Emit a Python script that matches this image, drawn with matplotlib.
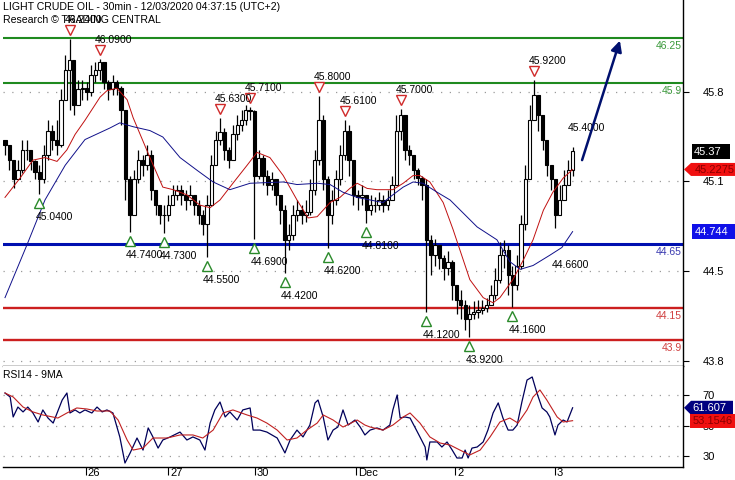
import matplotlib
matplotlib.use("Agg")
import matplotlib.pyplot as plt
import numpy as np
from matplotlib.patches import Polygon
from matplotlib.transforms import IdentityTransform, offset_copy, ScaledTranslation

plt.rcParams['font.family'] = ['Liberation Sans', 'DejaVu Sans']

# ---------------- data (each candle = one hour, index k) ----------------
closes = [45.42, 45.30, 45.15, 45.22, 45.38, 45.38, 45.29, 45.21, 45.15, 45.34,
          45.53, 45.46, 45.42, 45.77, 46.00, 46.08, 45.73, 45.85, 45.86, 45.83,
          45.96, 46.00, 46.06, 45.91, 45.85, 45.91, 45.86, 45.69, 45.15, 44.87,
          45.15, 45.30, 45.26, 45.34, 45.07, 44.95, 44.87, 44.87, 44.95, 45.03,
          45.07, 45.03, 44.99, 45.03, 44.95, 44.87, 44.80, 44.95, 45.26, 45.46,
          45.52, 45.38, 45.30, 45.50, 45.57, 45.61, 45.69, 45.68, 45.18, 45.32,
          45.18, 45.11, 45.15, 45.03, 44.91, 44.68, 44.72, 44.87, 44.91, 44.87,
          44.90, 45.07, 45.30, 45.61, 45.15, 44.87, 44.99, 45.15, 45.34, 45.53,
          45.30, 45.03, 45.01, 45.03, 44.91, 44.95, 44.95, 44.99, 44.95, 44.99,
          45.11, 45.53, 45.65, 45.38, 45.34, 45.22, 45.16, 45.11, 44.68, 44.56,
          44.64, 44.54, 44.46, 44.51, 44.33, 44.21, 44.17, 44.06, 44.10, 44.12,
          44.13, 44.15, 44.17, 44.25, 44.37, 44.56, 44.60, 44.41, 44.33, 44.48,
          44.80, 45.15, 45.61, 45.81, 45.65, 45.46, 45.26, 45.15, 44.87, 44.99,
          45.11, 45.22, 45.37]
highs = [45.46, 45.42, 45.26, 45.30, 45.46, 45.46, 45.38, 45.30, 45.26, 45.42,
         45.61, 45.57, 45.61, 45.85, 46.12, 46.24, 46.08, 45.92, 45.92, 45.91,
         46.04, 46.06, 46.09, 46.06, 45.92, 45.96, 45.92, 45.88, 45.69, 45.18,
         45.22, 45.38, 45.34, 45.42, 45.38, 45.07, 44.95, 44.95, 45.03, 45.11,
         45.11, 45.11, 45.07, 45.11, 45.03, 44.99, 44.91, 45.03, 45.34, 45.53,
         45.63, 45.55, 45.40, 45.57, 45.65, 45.69, 45.73, 45.71, 45.69, 45.38,
         45.34, 45.22, 45.21, 45.15, 45.03, 44.95, 44.80, 44.95, 44.99, 44.95,
         44.99, 45.15, 45.38, 45.80, 45.65, 45.18, 45.07, 45.22, 45.42, 45.61,
         45.57, 45.30, 45.07, 45.11, 45.03, 45.03, 45.01, 45.05, 45.03, 45.07,
         45.18, 45.65, 45.70, 45.65, 45.42, 45.34, 45.24, 45.18, 45.15, 44.72,
         44.69, 44.64, 44.56, 44.59, 44.52, 44.33, 44.29, 44.21, 44.17, 44.20,
         44.21, 44.21, 44.23, 44.33, 44.46, 44.66, 44.68, 44.64, 44.48, 44.56,
         44.87, 45.26, 45.73, 45.92, 45.81, 45.65, 45.46, 45.26, 45.15, 45.11,
         45.22, 45.30, 45.40]
lows = [45.34, 45.22, 45.08, 45.15, 45.20, 45.30, 45.22, 45.15, 45.04, 45.12,
        45.30, 45.38, 45.34, 45.40, 45.77, 45.69, 45.65, 45.73, 45.77, 45.77,
        45.80, 45.91, 45.92, 45.85, 45.77, 45.81, 45.81, 45.57, 44.99, 44.74,
        44.87, 45.12, 45.18, 45.22, 44.99, 44.87, 44.80, 44.73, 44.83, 44.95,
        44.99, 44.95, 44.91, 44.95, 44.87, 44.80, 44.72, 44.55, 44.95, 45.26,
        45.42, 45.30, 45.24, 45.30, 45.46, 45.53, 45.57, 45.61, 44.69, 45.15,
        45.11, 45.03, 45.07, 44.95, 44.80, 44.42, 44.60, 44.68, 44.83, 44.80,
        44.82, 44.87, 45.03, 45.26, 45.07, 44.62, 44.80, 44.95, 45.11, 45.30,
        45.18, 44.95, 44.91, 44.95, 44.81, 44.87, 44.90, 44.91, 44.90, 44.91,
        44.99, 45.11, 45.46, 45.30, 45.26, 45.15, 45.11, 44.99, 44.12, 44.41,
        44.48, 44.45, 44.37, 44.41, 44.21, 44.10, 44.06, 43.98, 43.92, 44.06,
        44.07, 44.10, 44.12, 44.17, 44.22, 44.34, 44.46, 44.25, 44.16, 44.29,
        44.45, 44.76, 45.15, 45.61, 45.53, 45.38, 45.18, 45.07, 44.77, 44.87,
        44.99, 45.11, 45.18]
first_open = 45.46
opens = [first_open] + closes[:-1]

ma_fast_x = [0, 3.5, 6.5, 9.3, 12.1, 14.4, 16.3, 18.6, 22.1, 23.7, 26.0, 28.4, 29.8, 33.7,
             36.7, 39.1, 42.3, 45.3, 47.7, 50.0, 53.0, 56.3, 58.6, 61.6, 64.7, 67.9, 70.5,
             72.6, 75.6, 77.9, 80.2, 81.9, 84.2, 86.5, 90.2, 92.6, 94.9, 96.5, 98.8, 101.9,
             104.2, 108.1, 111.2, 113.5, 115.1, 118.1, 120.5, 122.8, 125.2, 127.4, 129.8, 132]
ma_fast_y = [45.01, 45.16, 45.30, 45.32, 45.29, 45.38, 45.50, 45.61, 45.79, 45.84, 45.86,
             45.77, 45.63, 45.32, 45.09, 45.07, 45.03, 44.95, 44.93, 44.99, 45.12, 45.26,
             45.36, 45.32, 45.18, 44.99, 44.85, 44.86, 44.97, 45.01, 45.08, 45.12, 45.08,
             45.07, 45.07, 45.12, 45.18, 45.18, 45.13, 44.97, 44.76, 44.37, 44.23, 44.19,
             44.23, 44.37, 44.52, 44.68, 44.91, 45.05, 45.16, 45.2275]
ma_slow_x = [0, 5.1, 9.3, 14.0, 18.6, 24.4, 26.7, 29.8, 33.7, 36.7, 40.7, 44.7, 48.4, 52.3,
             57.0, 64.7, 67.9, 72.6, 75.6, 78.6, 81.9, 84.9, 87.9, 90.2, 92.6, 94.9, 97.2,
             100.5, 103.5, 106.5, 109.8, 114.4, 117.4, 119.8, 122.8, 126.7, 129.5, 132]
ma_slow_y = [44.23, 44.64, 44.99, 45.26, 45.46, 45.55, 45.59, 45.56, 45.53, 45.48, 45.32,
             45.22, 45.13, 45.07, 45.12, 45.13, 45.11, 45.12, 45.11, 45.05, 45.01, 44.99,
             44.97, 45.03, 45.09, 45.13, 45.12, 45.05, 44.99, 44.89, 44.78, 44.68, 44.51,
             44.45, 44.48, 44.56, 44.62, 44.744]

rsi_x = [0, 1.2, 1.9, 3.0, 4.2, 5.3, 6.5, 7.7, 8.8, 10.0, 11.2, 13.3, 14.4, 15.1, 16.3, 17.4,
         18.6, 20.2, 21.4, 22.6, 23.7, 25.1, 26.7, 27.9, 29.1, 30.7, 32.1, 33.3, 34.4, 35.6,
         36.7, 38.4, 40.7, 42.3, 43.7, 45.3, 46.5, 47.7, 48.8, 50.0, 51.2, 52.3, 54.0, 55.3,
         57.0, 57.7, 59.3, 60.9, 63.3, 65.1, 66.3, 67.9, 69.3, 70.9, 72.1, 72.8, 74.0, 75.1,
         76.3, 77.4, 78.6, 79.8, 81.4, 82.6, 83.7, 84.9, 86.5, 87.9, 89.5, 90.2, 91.2, 91.9,
         93.0, 94.2, 95.3, 96.5, 97.7, 98.1, 98.8, 100.5, 101.6, 102.8, 104.0, 105.1, 106.3,
         107.0, 107.7, 108.6, 109.8, 111.2, 112.3, 113.5, 114.7, 115.8, 117.0, 118.1, 119.1,
         120.2, 121.4, 122.6, 123.7, 124.9, 126.0, 126.7, 127.9, 128.6, 129.8, 130.7, 132]
rsi_y = [71.3, 68.7, 55.6, 62.1, 58.9, 62.1, 58.2, 52.3, 60.2, 54.9, 51.6, 66.7, 71.3, 58.2,
         60.2, 58.2, 60.2, 58.2, 62.1, 58.9, 60.2, 58.2, 42.5, 25.4, 32.0, 41.8, 33.9, 48.4,
         42.5, 35.2, 40.5, 42.5, 45.7, 40.5, 42.5, 40.5, 33.9, 51.6, 60.2, 65.4, 55.6, 58.9,
         53.6, 60.2, 61.5, 47.0, 47.0, 45.7, 41.8, 32.0, 40.5, 47.0, 42.5, 50.3, 64.8, 66.7,
         55.6, 40.5, 47.0, 49.0, 60.2, 50.3, 53.6, 49.0, 43.8, 47.0, 48.4, 47.0, 50.3, 60.2,
         70.0, 54.9, 55.6, 54.9, 49.0, 42.5, 35.9, 27.4, 39.2, 39.2, 35.9, 39.2, 33.9, 28.7,
         28.7, 33.9, 28.7, 35.2, 35.9, 39.2, 47.0, 58.2, 64.8, 54.9, 47.0, 47.0, 50.3, 65.4,
         79.8, 81.8, 71.3, 61.5, 58.9, 55.6, 43.8, 50.3, 53.6, 52.3, 61.607]
rsi_ma_x = [0, 1.9, 4.2, 6.5, 8.8, 12.3, 14.4, 16.7, 19.1, 21.4, 24.4, 26.3, 28.4, 29.8, 32.1,
            34.4, 37.7, 40.7, 43.7, 46.0, 48.4, 50.7, 53.0, 56.3, 58.6, 60.9, 63.3, 65.6, 67.9,
            70.2, 72.6, 74.0, 76.3, 78.6, 81.9, 83.7, 84.9, 87.9, 90.2, 92.6, 94.2, 96.5, 98.8,
            101.2, 103.5, 105.8, 108.1, 110.5, 112.8, 115.1, 117.4, 119.3, 121.4, 122.8, 124.4,
            126.0, 128.4, 129.8, 132]
rsi_ma_y = [71.3, 68.7, 62.1, 58.9, 56.9, 54.9, 58.2, 61.5, 60.8, 59.5, 59.5, 53.6, 40.5, 33.9,
            35.2, 41.8, 41.8, 43.8, 43.8, 41.8, 47.0, 58.2, 60.2, 56.9, 54.9, 51.6, 47.0, 40.5,
            41.8, 47.0, 51.6, 56.9, 53.6, 49.0, 53.6, 50.3, 49.0, 47.0, 50.3, 55.6, 58.2, 51.6,
            42.5, 38.5, 37.2, 33.9, 30.7, 33.9, 42.5, 52.3, 54.9, 51.6, 60.2, 68.7, 73.3, 66.7,
            55.6, 52.3, 53.1546]

peak_idx = [15, 22, 50, 57, 73, 79, 92, 123]
trough_idx = [8, 29, 37, 47, 58, 65, 75, 84, 98, 108, 118]
pending_peak = (132, 45.40)
pending_trough = (128, 44.66)

resist_levels = [46.25, 45.9]
pivot_levels = [44.65]
support_levels = [44.15, 43.9]

proj_x = [134.2, 143.0]
proj_y = [45.30, 46.23]

price_grid = [45.83, 45.137, 44.437, 43.74]
price_grid_labels = ['45.8', '45.1', '44.5', '43.8']
rsi_grid = [70, 50, 30]
day_pos = [18.8, 37.9, 58.1, 81.6, 104.7, 127.9]
day_labels = ['26', '27', '30', 'Dec', '2', '3']

title = 'LIGHT CRUDE OIL - 30min - 12/03/2020 04:37:15 (UTC+2)'
subtitle = 'Research \u00a9 TRADING CENTRAL'

# ---------------- figure ----------------
W, H = 735, 480
fig = plt.figure(figsize=(W / 100, H / 100), dpi=100)
ax = fig.add_axes([3 / W, 114 / H, 680 / W, 366 / H])
axr = fig.add_axes([3 / W, 13 / H, 680 / W, 101 / H])

GREEN = '#1f8a1f'
BLUE = '#0010b0'
RED = '#cc1f1f'
DOT = (0, (1, 6))

for a in (ax, axr):
    a.set_xlim(-0.465, 157.67)
    a.spines['left'].set_visible(False)
    a.spines['top'].set_visible(False)
    a.spines['right'].set_linewidth(1.0)
    a.spines['bottom'].set_linewidth(1.0)
    a.yaxis.tick_right()
    a.set_facecolor('white')

ax.set_ylim(43.698, 46.546)
ax.set_xticks([])
ax.set_yticks(price_grid, price_grid_labels)
ax.tick_params(axis='y', length=4, pad=10, labelsize=8, width=0.8)
for v in price_grid:
    ax.axhline(v, color='#9a9a9a', lw=0.9, ls=DOT, zorder=0)

# levels
for v in resist_levels:
    ax.axhline(v, color=GREEN, lw=1.5, zorder=1)
for v in pivot_levels:
    ax.axhline(v, color=BLUE, lw=2.2, zorder=1)
for v in support_levels:
    ax.axhline(v, color=RED, lw=1.7, zorder=1)
for levels, col in ((resist_levels, '#3c9a3c'), (pivot_levels, '#3a3ab0'), (support_levels, '#d04040')):
    for v in levels:
        ax.annotate(f'{v:g}', xy=(1, v), xycoords=('axes fraction', 'data'),
                    xytext=(-1, -8), textcoords='offset pixels', ha='right', va='center',
                    color=col, fontsize=7.5, zorder=6)

# candles
k = np.arange(len(closes))
o = np.array(opens)
c = np.array(closes)
hi = np.array(highs)
lo = np.array(lows)
ax.vlines(k, lo, hi, color='black', lw=0.9, zorder=3)
up = c >= o
ax.bar(k[up], (c - o)[up], bottom=o[up], width=0.75, color='white', edgecolor='black',
       lw=0.8, zorder=3.5)
ax.bar(k[~up], (c - o)[~up], bottom=o[~up], width=0.75, color='black', edgecolor='black',
       lw=0.8, zorder=3.5)

# moving averages
ax.plot(ma_fast_x, ma_fast_y, color='#c01010', lw=0.7, zorder=4)
ax.plot(ma_slow_x, ma_slow_y, color='#10108a', lw=0.7, zorder=4)

# swing markers
tr_up = offset_copy(ax.transData, fig=fig, x=0, y=9, units='dots')
tr_dn = offset_copy(ax.transData, fig=fig, x=0, y=-9, units='dots')
ax.plot(peak_idx, hi[peak_idx], ls='none', marker='v', ms=7, mfc='white', mec='#d02a2a',
        mew=1.0, transform=tr_up, zorder=5)
ax.plot(trough_idx, lo[trough_idx], ls='none', marker='^', ms=7, mfc='white', mec='#2a8a2a',
        mew=1.0, transform=tr_dn, zorder=5)
peak_pts = [(i, hi[i]) for i in peak_idx] + [pending_peak]
trough_pts = [(i, lo[i]) for i in trough_idx] + [pending_trough]
for i, v in peak_pts:
    ax.annotate(f'{v:.4f}', xy=(i, v), xytext=(-5, 19), textcoords='offset pixels',
                ha='left', va='center', fontsize=7.5, zorder=5)
for i, v in trough_pts:
    ax.annotate(f'{v:.4f}', xy=(i, v), xytext=(-4, -23), textcoords='offset pixels',
                ha='left', va='center', fontsize=7.5, zorder=5)

# projection arrow
ax.annotate('', xy=(proj_x[1], proj_y[1]), xytext=(proj_x[0], proj_y[0]),
            arrowprops=dict(arrowstyle='-|>', color='#00106e', lw=1.8, mutation_scale=16,
                            shrinkA=0, shrinkB=0), zorder=6)

# titles
fig.text(3 / W, 1 - 7 / H, title, fontsize=7.6, va='center', ha='left', zorder=20)
fig.text(3 / W, 1 - 20 / H, subtitle, fontsize=7.6, va='center', ha='left', zorder=20)

# RSI panel
axr.set_ylim(22.8, 89.0)
axr.set_yticks(rsi_grid, [str(v) for v in rsi_grid])
axr.tick_params(axis='y', length=4, pad=10, labelsize=8, width=0.8)
for v in rsi_grid:
    axr.axhline(v, color='#9a9a9a', lw=0.9, ls=DOT, zorder=0)
axr.plot(rsi_x, rsi_y, color='#00005a', lw=0.9, zorder=3)
axr.plot(rsi_ma_x, rsi_ma_y, color='#c02020', lw=0.8, zorder=4)
axr.set_xticks(day_pos, day_labels)
axr.tick_params(axis='x', length=5.5, width=0.8, pad=-5, labelsize=8)
shift = ScaledTranslation(2 / 100, 0, fig.dpi_scale_trans)
for lbl in axr.get_xticklabels():
    lbl.set_horizontalalignment('left')
    lbl.set_transform(lbl.get_transform() + shift)
fig.text(3 / W, 1 - 375 / H, 'RSI14 - 9MA', fontsize=7.5, va='center', ha='left')


def fmt(v):
    return f'{v:.4f}'.rstrip('0')


def tag(axis, val, text, fc, tc, x0, x1, h, arrow=False, tx=None):
    yd = axis.transData.transform((0, val))[1]
    if arrow:
        pts = [(x0, yd), (x0 + 7, yd + h / 2), (x1, yd + h / 2), (x1, yd - h / 2), (x0 + 7, yd - h / 2)]
    else:
        pts = [(x0, yd + h / 2), (x1, yd + h / 2), (x1, yd - h / 2), (x0, yd - h / 2)]
    fig.add_artist(Polygon(pts, closed=True, fc=fc, ec='none', transform=IdentityTransform(),
                           zorder=30))
    fig.text(tx if tx is not None else x0 + 3, yd - 0.5, text, transform=IdentityTransform(),
             color=tc, fontsize=8, va='center', ha='left', zorder=31)


tag(ax, closes[-1], fmt(closes[-1]), '#000000', 'white', 692, 730, 15, tx=694)
tag(ax, ma_fast_y[-1], fmt(ma_fast_y[-1]), '#f01010', '#8a0000', 684, 735, 13, arrow=True, tx=695)
tag(ax, ma_slow_y[-1], fmt(ma_slow_y[-1]), '#1010e8', 'white', 692, 735, 15, tx=695)
tag(axr, rsi_y[-1], fmt(rsi_y[-1]), '#000080', 'white', 684, 733, 14, arrow=True, tx=692)
tag(axr, rsi_ma_y[-1], fmt(rsi_ma_y[-1]), '#f01010', '#8a0000', 690, 735, 14, tx=693)

fig.savefig('out.png', dpi=100)
